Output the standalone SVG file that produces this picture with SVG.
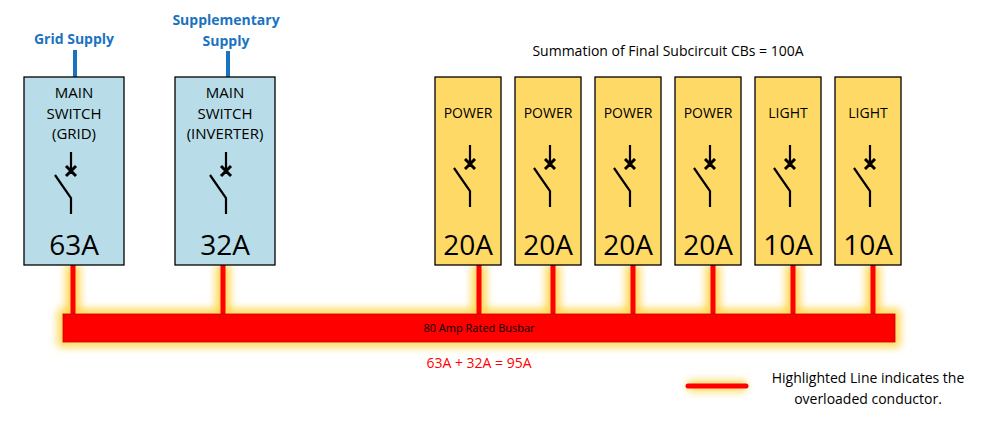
<svg xmlns="http://www.w3.org/2000/svg" width="995" height="421" viewBox="0 0 995 421">
<defs>
<filter id="glow" x="-20%" y="-50%" width="140%" height="200%"><feGaussianBlur stdDeviation="4"/></filter>
<g id="sw" fill="none" stroke="#000" stroke-width="2.2">
<line x1="0" y1="-20" x2="0" y2="2"/>
<line x1="-5" y1="-6" x2="5" y2="4" stroke-width="3"/><line x1="5" y1="-6" x2="-5" y2="4" stroke-width="3"/>
<path d="M-16,3 L0,26 L0,42"/>
</g>
</defs>
<style>
text{font-family:"Open Sans","Noto Sans",sans-serif;text-anchor:middle}
.main{fill:#b8dde8;stroke:#000;stroke-width:1.3}
.cb{fill:#ffd966;stroke:#000;stroke-width:1.3}
.lbl{font-size:15px;fill:#000}
.amp{font-size:28px;fill:#000}
.sup{font-size:14px;font-weight:bold;fill:#1a73c0}
.glow{stroke:#ffd54a;stroke-width:14;filter:url(#glow);fill:none}
.red{stroke:#ff0000;stroke-width:5;stroke-linecap:round}
</style>
<g id="connectors">
<g class="glow">
<line x1="73" y1="265" x2="73" y2="318"/><line x1="223" y1="265" x2="223" y2="318"/>
<line x1="479" y1="265" x2="479" y2="318"/><line x1="553" y1="265" x2="553" y2="318"/>
<line x1="633" y1="265" x2="633" y2="318"/><line x1="713" y1="265" x2="713" y2="318"/>
<line x1="793" y1="265" x2="793" y2="318"/><line x1="873" y1="265" x2="873" y2="318"/>
<rect x="63" y="314" width="832" height="28" stroke-width="10"/>
<line x1="688" y1="386" x2="746" y2="386" stroke-width="10"/>
</g>
<line x1="75" y1="50" x2="75" y2="77" stroke="#1a73c0" stroke-width="4"/>
<line x1="228" y1="51" x2="228" y2="77" stroke="#1a73c0" stroke-width="4"/>
<g class="red">
<line x1="73" y1="265" x2="73" y2="316"/><line x1="223" y1="265" x2="223" y2="316"/>
<line x1="479" y1="265" x2="479" y2="316"/><line x1="553" y1="265" x2="553" y2="316"/>
<line x1="633" y1="265" x2="633" y2="316"/><line x1="713" y1="265" x2="713" y2="316"/>
<line x1="793" y1="265" x2="793" y2="316"/><line x1="873" y1="265" x2="873" y2="316"/>
<line x1="688" y1="386" x2="746" y2="386"/>
</g>
</g>
<g id="busbar">
<rect x="63" y="314" width="832" height="28" fill="#ff0000" stroke="#c00000" stroke-width="0.8"/>
<text x="479" y="332" style="font-size:11px">80 Amp Rated Busbar</text>
</g>
<g id="grid">
<text class="sup" x="74" y="44">Grid Supply</text>
<rect class="main" x="24" y="77" width="100" height="188"/>
<text class="lbl" x="74" y="98">MAIN</text><text class="lbl" x="74" y="119">SWITCH</text><text class="lbl" x="74" y="139">(GRID)</text>
<use href="#sw" x="71" y="172"/>
<text class="amp" x="74" y="255">63A</text>
</g>
<g id="inverter">
<text class="sup" x="226" y="25">Supplementary</text><text class="sup" x="226" y="46">Supply</text>
<rect class="main" x="175" y="77" width="100" height="188"/>
<text class="lbl" x="225" y="98">MAIN</text><text class="lbl" x="225" y="119">SWITCH</text><text class="lbl" x="225" y="139">(INVERTER)</text>
<use href="#sw" x="226" y="172"/>
<text class="amp" x="225" y="255">32A</text>
</g>
<text x="668" y="56" style="font-size:14px">Summation of Final Subcircuit CBs = 100A</text>
<g id="cb1"><rect class="cb" x="435" y="77" width="66" height="188"/><text class="lbl" x="468" y="118" style="font-size:14px">POWER</text><use href="#sw" x="470" y="165"/><text class="amp" x="468" y="255">20A</text></g>
<g id="cb2"><rect class="cb" x="515" y="77" width="66" height="188"/><text class="lbl" x="548" y="118" style="font-size:14px">POWER</text><use href="#sw" x="550" y="165"/><text class="amp" x="548" y="255">20A</text></g>
<g id="cb3"><rect class="cb" x="595" y="77" width="66" height="188"/><text class="lbl" x="628" y="118" style="font-size:14px">POWER</text><use href="#sw" x="630" y="165"/><text class="amp" x="628" y="255">20A</text></g>
<g id="cb4"><rect class="cb" x="675" y="77" width="66" height="188"/><text class="lbl" x="708" y="118" style="font-size:14px">POWER</text><use href="#sw" x="710" y="165"/><text class="amp" x="708" y="255">20A</text></g>
<g id="cb5"><rect class="cb" x="755" y="77" width="66" height="188"/><text class="lbl" x="788" y="118" style="font-size:14px">LIGHT</text><use href="#sw" x="790" y="165"/><text class="amp" x="788" y="255">10A</text></g>
<g id="cb6"><rect class="cb" x="835" y="77" width="66" height="188"/><text class="lbl" x="868" y="118" style="font-size:14px">LIGHT</text><use href="#sw" x="870" y="165"/><text class="amp" x="868" y="255">10A</text></g>
<text x="479" y="368" style="font-size:14px;fill:#ff0000">63A + 32A = 95A</text>
<text x="868" y="383" style="font-size:14px">Highlighted Line indicates the</text>
<text x="868" y="404" style="font-size:14px">overloaded conductor.</text>
</svg>
